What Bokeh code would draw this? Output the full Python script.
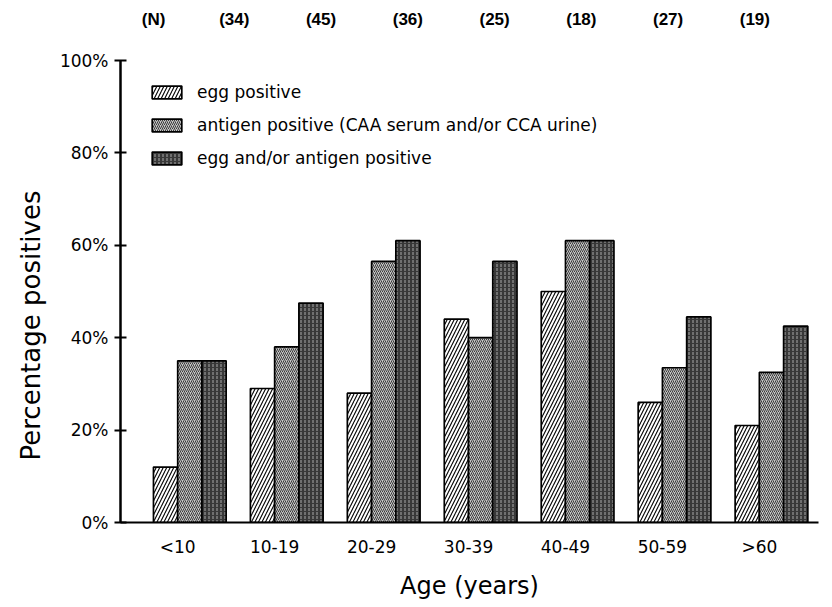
import math
from bokeh.plotting import figure
from bokeh.models import Range1d, FixedTicker, Legend, LegendItem, ColumnDataSource
from bokeh.transform import dodge
from bokeh.layouts import row, column
from bokeh.core.properties import value
from bokeh.embed import file_html
from bokeh.resources import INLINE

# ---- data ----
age_groups = ["<10", "10-19", "20-29", "30-39", "40-49", "50-59", ">60"]
n_counts = [34, 45, 36, 25, 18, 27, 19]
egg_positive = [12, 29, 28, 44, 50, 26, 21]
antigen_positive = [35, 38, 56.5, 40, 61, 33.5, 32.5]
egg_or_antigen = [35, 47.5, 61, 56.5, 61, 44.5, 42.5]
y_ticks = [0, 20, 40, 60, 80, 100]
series_labels = ["egg positive",
                 "antigen positive (CAA serum and/or CCA urine)",
                 "egg and/or antigen positive"]

FONT_NAME = "DejaVu Sans"
FONT = value(FONT_NAME)
FONT_N = value("Liberation Sans")

# ---- layout constants (pixels) ----
TOTAL_W, TOTAL_H = 830, 605
LEFT_W = 50
TOP_H = 44
MAIN_W = TOTAL_W - LEFT_W
MAIN_H = TOTAL_H - TOP_H
FRAME_L, FRAME_R, FRAME_T, FRAME_B = 120, 818, 60, 522
X0, X1 = 0.41, 7.61
ppu = (FRAME_R - FRAME_L) / (X1 - X0)

xpos = list(range(1, len(age_groups) + 1))
src = ColumnDataSource(dict(x=xpos, egg=egg_positive, ant=antigen_positive, both=egg_or_antigen))

# ---- main plot ----
p = figure(width=MAIN_W, height=MAIN_H, output_backend="svg", toolbar_location=None,
           x_range=Range1d(X0, X1), y_range=Range1d(0, 100),
           min_border_left=FRAME_L - LEFT_W, min_border_right=TOTAL_W - FRAME_R,
           min_border_top=FRAME_T - TOP_H, min_border_bottom=TOTAL_H - FRAME_B)
p.outline_line_color = None
p.grid.visible = False

bw = 0.25
r1 = p.vbar(x=dodge("x", -0.125, range=p.x_range), top="egg", width=bw, source=src,
            fill_color="white", hatch_pattern="/", hatch_scale=7, hatch_weight=1.1,
            hatch_color="black", line_color="black", line_width=1.7)
r2 = p.vbar(x=dodge("x", 0.125, range=p.x_range), top="ant", width=bw, source=src,
            fill_color="#c4c4c4", hatch_pattern="/", hatch_scale=4, hatch_weight=1,
            hatch_color="#3a3a3a", line_color="black", line_width=1.7)
r3 = p.vbar(x=dodge("x", 0.375, range=p.x_range), top="both", width=bw, source=src,
            fill_color="#383838", hatch_pattern=":", hatch_scale=4, hatch_weight=1,
            hatch_color="#a8a8a8", line_color="black", line_width=1.7)

xa = p.xaxis[0]
xa.ticker = FixedTicker(ticks=xpos)
xa.major_label_overrides = {i: lbl for i, lbl in zip(xpos, age_groups)}
xa.axis_line_width = 2
xa.major_tick_line_color = None
xa.major_tick_out = 0
xa.major_tick_in = 0
xa.minor_tick_line_color = None
xa.major_label_standoff = 14
xa.major_label_text_font = FONT_NAME
xa.major_label_text_font_size = "17px"
xa.major_label_text_color = "black"
xa.axis_label = "Age (years)"
xa.axis_label_standoff = 12
xa.axis_label_text_font = FONT_NAME
xa.axis_label_text_font_size = "24px"
xa.axis_label_text_font_style = "normal"
xa.axis_label_text_color = "black"

ya = p.yaxis[0]
ya.ticker = FixedTicker(ticks=y_ticks)
ya.major_label_overrides = {t: f"{t}%" for t in y_ticks}
ya.axis_line_width = 2.5
ya.major_tick_in = 6
ya.major_tick_out = 6
ya.major_tick_line_width = 2
ya.minor_tick_line_color = None
ya.major_label_standoff = 6
ya.major_label_text_font = FONT_NAME
ya.major_label_text_font_size = "17px"
ya.major_label_text_color = "black"

legend = Legend(items=[LegendItem(label=series_labels[0], renderers=[r1]),
                       LegendItem(label=series_labels[1], renderers=[r2]),
                       LegendItem(label=series_labels[2], renderers=[r3])],
                location=(28, 354), glyph_width=37, glyph_height=16, label_height=17,
                spacing=13, padding=0, margin=0, label_standoff=12,
                border_line_color=None, background_fill_alpha=0,
                label_text_font=FONT_NAME, label_text_font_size="17px",
                label_text_color="black")
p.add_layout(legend)

# ---- top strip with group sizes (N), aligned to the main x scale ----
tx0 = X0 - (FRAME_L - LEFT_W) / ppu
tx1 = tx0 + MAIN_W / ppu
t = figure(width=MAIN_W, height=TOP_H, output_backend="svg", toolbar_location=None,
           x_range=Range1d(tx0, tx1), y_range=Range1d(TOP_H, 0),
           x_axis_location=None, y_axis_location=None, min_border=0)
t.outline_line_color = None
t.grid.visible = False
n_src = ColumnDataSource(dict(x=xpos, label=[f"({n})" for n in n_counts], y=[19] * len(xpos)))
t.text(x="x", y="y", text="label", source=n_src, text_align="center", text_baseline="middle",
       text_font=FONT_N, text_font_size="17px", text_font_style="bold", text_color="black")
t.text(x=[X0 - (FRAME_L - 87) / ppu], y=[19], text=["(N)"], text_align="center",
       text_baseline="middle", text_font=FONT_N, text_font_size="17px",
       text_font_style="bold", text_color="black")

# ---- left strip with the y-axis title ----
l = figure(width=LEFT_W, height=TOTAL_H, output_backend="svg", toolbar_location=None,
           x_range=Range1d(0, LEFT_W), y_range=Range1d(TOTAL_H, 0),
           x_axis_location=None, y_axis_location=None, min_border=0)
l.outline_line_color = None
l.grid.visible = False
l.text(x=[30], y=[325], text=["Percentage positives"], angle=math.pi / 2,
       text_align="center", text_baseline="middle", text_font=FONT,
       text_font_size="26px", text_color="black")

layout = row(l, column(t, p, spacing=0), spacing=0)
open("out.html", "w").write(file_html(layout, INLINE))
